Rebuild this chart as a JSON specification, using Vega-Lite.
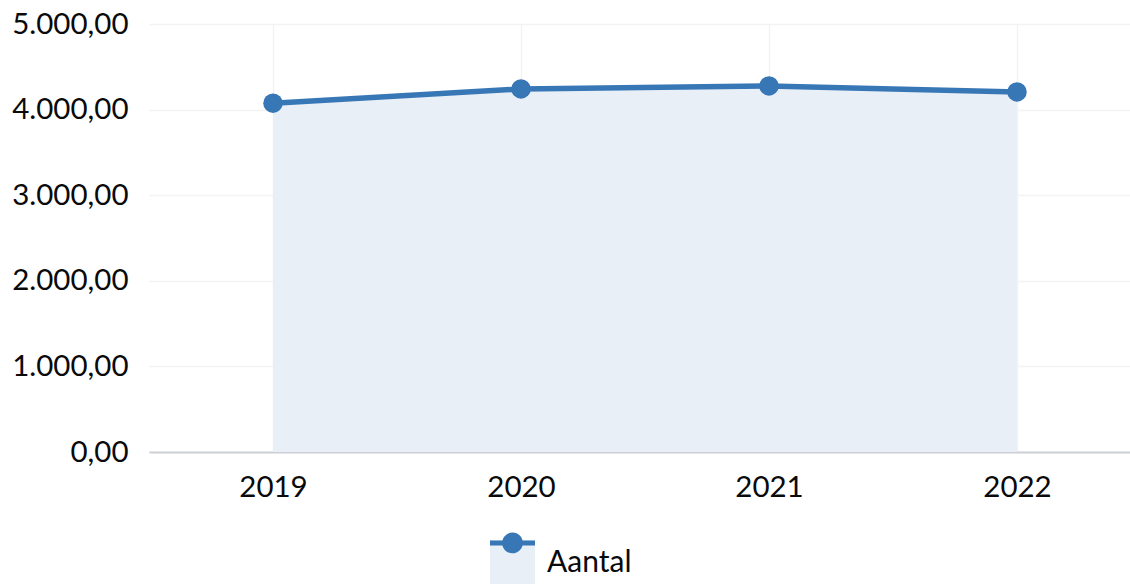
{
  "$schema": "https://vega.github.io/schema/vega-lite/v6.json",
  "autosize": "none",
  "width": 981,
  "height": 428,
  "padding": {"left": 149, "top": 24, "right": 0, "bottom": 132},
  "background": "white",
  "config": {
    "font": "Lato",
    "view": {"stroke": null},
    "locale": {"number": {"decimal": ",", "thousands": ".", "grouping": [3], "currency": ["€", ""]}}
  },
  "data": {"values": [
    {"jaar": "2019", "aantal": 4075, "s1": "Aantal", "s2": "Aantal"},
    {"jaar": "2020", "aantal": 4242, "s1": "Aantal", "s2": "Aantal"},
    {"jaar": "2021", "aantal": 4277, "s1": "Aantal", "s2": "Aantal"},
    {"jaar": "2022", "aantal": 4207, "s1": "Aantal", "s2": "Aantal"}
  ]},
  "encoding": {
    "x": {
      "field": "jaar", "type": "ordinal",
      "scale": {"type": "point", "padding": 0.5, "range": [0, 992]},
      "axis": {
        "title": null, "labelAngle": 0, "labelFontSize": 29.5, "labelColor": "#0a0a0a",
        "labelPadding": 21, "ticks": false, "domainColor": "#ccd0d4", "domainWidth": 2,
        "grid": true, "gridColor": "#f3f3f3", "gridWidth": 1.5
      }
    },
    "y": {
      "field": "aantal", "type": "quantitative",
      "scale": {"domain": [0, 5000], "nice": false},
      "axis": {
        "title": null, "values": [0, 1000, 2000, 3000, 4000, 5000], "format": ",.2f",
        "labelFontSize": 29.5, "labelColor": "#0a0a0a", "labelPadding": 21, "ticks": false,
        "domain": false, "grid": true, "gridColor": "#f3f3f3", "gridWidth": 1.5
      }
    }
  },
  "layer": [
    {
      "mark": {"type": "area"},
      "encoding": {
        "fill": {
          "field": "s1", "type": "nominal",
          "scale": {"range": ["#e8eff7"]},
          "legend": {
            "title": null, "orient": "none", "legendX": 341, "legendY": 516,
            "symbolType": "square", "symbolSize": 2025, "symbolStrokeWidth": 0, "symbolOpacity": 1,
            "labelFontSize": 30, "labelColor": "#0a0a0a", "labelOffset": 12, "padding": 0, "zindex": 0
          }
        }
      }
    },
    {
      "mark": {"type": "line", "color": "#3877b6", "strokeWidth": 5.5},
      "encoding": {}
    },
    {
      "mark": {"type": "circle", "opacity": 1, "size": 380},
      "encoding": {
        "color": {
          "field": "s2", "type": "nominal",
          "scale": {"range": ["#3877b6"]},
          "legend": {
            "title": null, "orient": "none", "legendX": 341, "legendY": 516,
            "symbolType": "M-1,-0.98 L1,-0.98 L1,-0.76 L-1,-0.76 Z M-0.46,-0.87 A0.46,0.46 0 1,1 0.46,-0.87 A0.46,0.46 0 1,1 -0.46,-0.87 Z",
            "symbolSize": 2025, "symbolStrokeWidth": 0, "symbolOpacity": 1,
            "labelFontSize": 30, "labelColor": "transparent", "labelOffset": 12, "padding": 0, "zindex": 1
          }
        }
      }
    }
  ]
}
